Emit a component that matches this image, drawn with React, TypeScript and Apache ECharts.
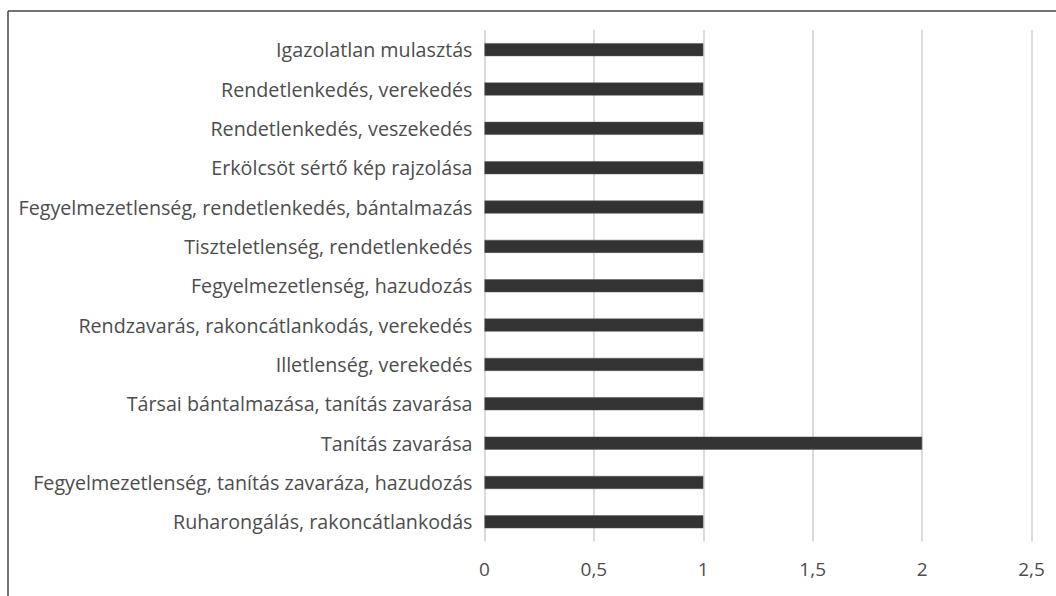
import React, { useEffect, useRef } from "react";
import * as echarts from "echarts";

// Listed bottom to top, as the category axis draws them
const categories = [
  "Ruharongálás, rakoncátlankodás",
  "Fegyelmezetlenség, tanítás zavaráza, hazudozás",
  "Tanítás zavarása",
  "Társai bántalmazása, tanítás zavarása",
  "Illetlenség, verekedés",
  "Rendzavarás, rakoncátlankodás, verekedés",
  "Fegyelmezetlenség, hazudozás",
  "Tiszteletlenség, rendetlenkedés",
  "Fegyelmezetlenség, rendetlenkedés, bántalmazás",
  "Erkölcsöt sértő kép rajzolása",
  "Rendetlenkedés, veszekedés",
  "Rendetlenkedés, verekedés",
  "Igazolatlan mulasztás",
];

const counts = [1, 1, 2, 1, 1, 1, 1, 1, 1, 1, 1, 1, 1];

const xMin = 0;
const xMax = 2.5;
const xStep = 0.5;

export default function App() {
  const ref = useRef<HTMLDivElement>(null);

  useEffect(() => {
    if (!ref.current) return;
    const chart = echarts.init(ref.current, null, { renderer: "svg" });
    chart.setOption({
      animation: false,
      backgroundColor: "#ffffff",
      textStyle: { fontFamily: "Open Sans" },
      grid: { left: 484.5, right: 24.5, top: 30, bottom: 54.5, containLabel: false },
      xAxis: {
        type: "value",
        min: xMin,
        max: xMax,
        interval: xStep,
        axisLine: { show: false },
        axisTick: { show: false },
        splitLine: { show: true, lineStyle: { color: "#cfcfcf", width: 1.5 } },
        axisLabel: {
          color: "#4d4d4d",
          fontSize: 19,
          margin: 18,
          formatter: (v: number) => String(v).replace(".", ","),
        },
      },
      yAxis: {
        type: "category",
        data: categories,
        axisLine: { show: false },
        axisTick: { show: false },
        axisLabel: { color: "#4d4d4d", fontSize: 19.7, margin: 12 },
      },
      series: [
        {
          type: "bar",
          data: counts,
          barWidth: "33%",
          itemStyle: { color: "#333333", borderColor: "#555555", borderWidth: 0.5 },
        },
      ],
      graphic: [
        {
          type: "line",
          shape: { x1: 8, y1: 11, x2: 1056, y2: 11 },
          style: { stroke: "#444444", lineWidth: 1.5 },
        },
        {
          type: "line",
          shape: { x1: 8, y1: 11, x2: 8, y2: 596 },
          style: { stroke: "#444444", lineWidth: 1.5 },
        },
      ],
    });
    return () => chart.dispose();
  }, []);

  return (
    <div
      ref={ref}
      style={{ position: "fixed", left: 0, top: 0, width: 1056, height: 596 }}
    />
  );
}
